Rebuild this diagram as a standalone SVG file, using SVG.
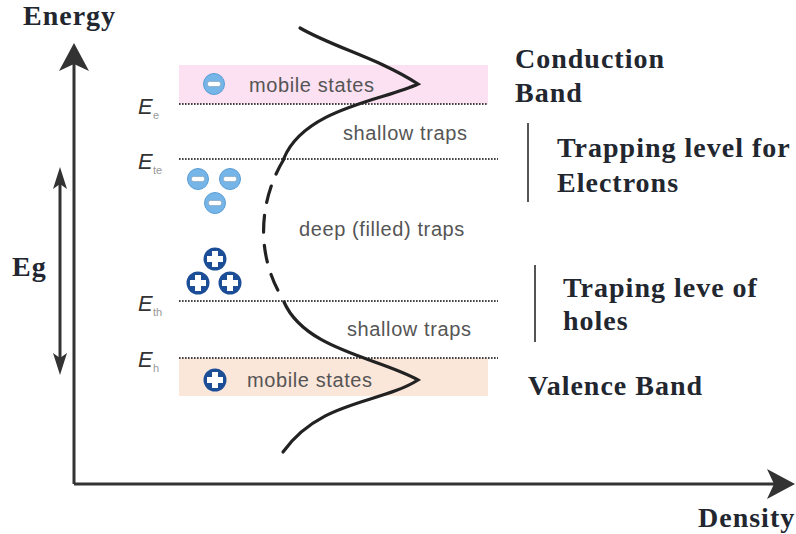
<svg xmlns="http://www.w3.org/2000/svg" width="796" height="534" viewBox="0 0 796 534">
<style>
.big{font-family:"Liberation Serif","Times New Roman",serif;font-weight:bold;font-size:28px;letter-spacing:1px;fill:#22262f}
.lbl{font-family:"Liberation Sans",Arial,sans-serif;font-size:20px;letter-spacing:0.6px;fill:#555}
.E{font-family:"Liberation Sans",Arial,sans-serif;font-style:italic;font-size:22px;fill:#333}
.sub{font-family:"Liberation Sans",Arial,sans-serif;font-size:11px;fill:#999}
.dot{stroke:#444;stroke-width:2.2;stroke-dasharray:1.6 1.4;fill:none}
.axis{stroke:#333;stroke-width:3;fill:none}
.curve{stroke:#222;stroke-width:3.2;fill:none;stroke-linecap:round}
.sep{stroke:#555;stroke-width:2}
.el{fill:#76b5e8;stroke:#5a9dd4;stroke-width:1}
.elbar{fill:#fff;stroke:#8aa6c0;stroke-width:0.8}
.ho{fill:#1c4e98}
</style>
<defs>
<marker id="bigArrow" markerUnits="userSpaceOnUse" viewBox="-30 -16 32 32" markerWidth="32" markerHeight="32" refX="-10" refY="0" orient="auto">
<path d="M0,0 L-28,-15 L-21,0 L-28,15 Z" fill="#333"/>
</marker>
<marker id="smallArrow" markerUnits="userSpaceOnUse" viewBox="-24 -10 26 20" markerWidth="26" markerHeight="20" refX="-8" refY="0" orient="auto-start-reverse">
<path d="M0,0 L-22,-7 L-17,0 L-22,7 Z" fill="#333"/>
</marker>
<g id="electron"><circle r="10.5" class="el"/><rect x="-6.5" y="-2.6" width="13" height="5.2" rx="2" class="elbar"/></g>
<g id="hole"><circle r="11.5" class="ho"/><path d="M-3,-8 H3 V-3 H8 V3 H3 V8 H-3 V3 H-8 V-3 H-3 Z" fill="#fff"/></g>
</defs>
<rect width="796" height="534" fill="#fff"/>

<g id="bands">
<rect x="179" y="65" width="309" height="39" fill="#fbe1f1"/>
<rect x="179" y="358" width="309" height="38" fill="#fbe6da"/>
</g>

<g id="levels">
<line x1="179" y1="104" x2="488" y2="104" class="dot"/>
<line x1="179" y1="159" x2="498" y2="159" class="dot"/>
<line x1="179" y1="301" x2="498" y2="301" class="dot"/>
<line x1="179" y1="358" x2="498" y2="358" class="dot"/>
<text class="E" x="138" y="114">E</text><text class="sub" x="153" y="119">e</text>
<text class="E" x="138" y="169">E</text><text class="sub" x="153" y="174">te</text>
<text class="E" x="138" y="311">E</text><text class="sub" x="153" y="316">th</text>
<text class="E" x="138" y="367">E</text><text class="sub" x="153" y="372">h</text>
</g>

<g id="density-curve">
<path class="curve" d="M300,28 C335,48 378,58 418,84 C385,100 305,108 284,158"/>
<path class="curve" d="M284,159 C262,195 252,250 284,301" stroke-dasharray="17 13"/>
<path class="curve" d="M284,302 C305,350 380,358 418,380 C380,404 320,400 283,452"/>
</g>

<g id="carriers">
<use href="#electron" x="214" y="84"/>
<use href="#electron" x="198" y="179"/>
<use href="#electron" x="230" y="179"/>
<use href="#electron" x="215" y="203"/>
<use href="#hole" x="215" y="259"/>
<use href="#hole" x="198" y="283"/>
<use href="#hole" x="230" y="283"/>
<use href="#hole" x="215" y="380"/>
</g>

<g id="region-labels">
<text class="lbl" x="249" y="92">mobile states</text>
<text class="lbl" x="343" y="140">shallow traps</text>
<text class="lbl" x="299" y="236">deep (filled) traps</text>
<text class="lbl" x="347" y="336">shallow traps</text>
<text class="lbl" x="247" y="387">mobile states</text>
</g>

<g id="conduction-band"><text class="big" x="515" y="68">Conduction</text><text class="big" x="515" y="102">Band</text></g>
<g id="electron-traps"><line class="sep" x1="528" y1="123" x2="528" y2="202"/><text class="big" x="557" y="157">Trapping level for</text><text class="big" x="557" y="192">Electrons</text></g>
<g id="hole-traps"><line class="sep" x1="535" y1="265" x2="535" y2="342"/><text class="big" x="563" y="297">Traping leve of</text><text class="big" x="563" y="330">holes</text></g>
<g id="valence-band"><text class="big" x="528" y="395">Valence Band</text></g>
<g id="energy-label"><text class="big" x="23" y="25">Energy</text></g>
<g id="density-label"><text class="big" x="698" y="527">Density</text></g>
<g id="eg-label"><text class="big" x="12" y="276">Eg</text></g>

<g id="connectors">
<path class="axis" d="M74,484 L74,53" marker-end="url(#bigArrow)"/>
<path class="axis" d="M74,484 L785,484" marker-end="url(#bigArrow)"/>
<path class="axis" stroke-width="2.5" d="M60,175 L60,367" marker-start="url(#smallArrow)" marker-end="url(#smallArrow)"/>
</g>
</svg>
